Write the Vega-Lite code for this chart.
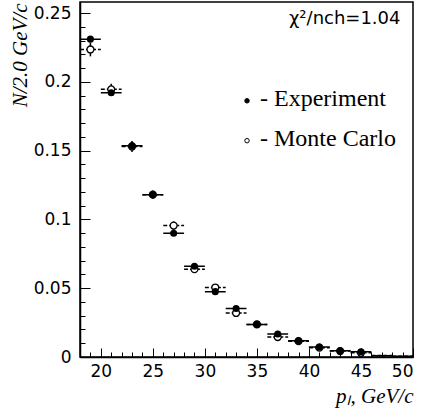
{
  "$schema": "https://vega.github.io/schema/vega-lite/v6.json",
  "width": 333,
  "height": 355,
  "autosize": {"type": "none"},
  "padding": {"left": 80, "top": 2, "right": 14, "bottom": 55},
  "background": "white",
  "config": {
    "view": {"stroke": "black", "strokeWidth": 1.5},
    "axis": {"grid": false, "labelFont": "DejaVu Sans", "labelFontSize": 17, "labelColor": "black", "domainColor": "black", "tickColor": "black", "domainWidth": 1.5, "tickWidth": 1}
  },
  "datasets": {
    "pts": [
      {"x": 19, "xlo": 18, "xhi": 20, "y": 0.231, "ylo": 0.229, "yhi": 0.233, "series": "Experiment"},
      {"x": 21, "xlo": 20, "xhi": 22, "y": 0.192, "ylo": 0.190, "yhi": 0.194, "series": "Experiment"},
      {"x": 23, "xlo": 22, "xhi": 24, "y": 0.1535, "ylo": 0.1505, "yhi": 0.1565, "series": "Experiment"},
      {"x": 25, "xlo": 24, "xhi": 26, "y": 0.118, "ylo": 0.116, "yhi": 0.120, "series": "Experiment"},
      {"x": 27, "xlo": 26, "xhi": 28, "y": 0.090, "ylo": 0.088, "yhi": 0.092, "series": "Experiment"},
      {"x": 29, "xlo": 28, "xhi": 30, "y": 0.066, "ylo": 0.064, "yhi": 0.068, "series": "Experiment"},
      {"x": 31, "xlo": 30, "xhi": 32, "y": 0.0475, "ylo": 0.046, "yhi": 0.049, "series": "Experiment"},
      {"x": 33, "xlo": 32, "xhi": 34, "y": 0.0352, "ylo": 0.034, "yhi": 0.0365, "series": "Experiment"},
      {"x": 35, "xlo": 34, "xhi": 36, "y": 0.0237, "ylo": 0.0227, "yhi": 0.0247, "series": "Experiment"},
      {"x": 37, "xlo": 36, "xhi": 38, "y": 0.0167, "ylo": 0.0157, "yhi": 0.0177, "series": "Experiment"},
      {"x": 39, "xlo": 38, "xhi": 40, "y": 0.0118, "ylo": 0.011, "yhi": 0.0126, "series": "Experiment"},
      {"x": 41, "xlo": 40, "xhi": 42, "y": 0.0072, "ylo": 0.0065, "yhi": 0.0079, "series": "Experiment"},
      {"x": 43, "xlo": 42, "xhi": 44, "y": 0.0046, "ylo": 0.004, "yhi": 0.0052, "series": "Experiment"},
      {"x": 45, "xlo": 44, "xhi": 46, "y": 0.0038, "ylo": 0.0032, "yhi": 0.0044, "series": "Experiment"},
      {"x": 47, "xlo": 46, "xhi": 48, "y": 0.0009, "ylo": 0.0009, "yhi": 0.0009, "series": "Experiment"},
      {"x": 49, "xlo": 48, "xhi": 50, "y": 0.0006, "ylo": 0.0006, "yhi": 0.0006, "series": "Experiment"},
      {"x": 19, "xlo": 18, "xhi": 20, "y": 0.2235, "ylo": 0.2185, "yhi": 0.2285, "series": "Monte Carlo"},
      {"x": 21, "xlo": 20, "xhi": 22, "y": 0.1945, "ylo": 0.1905, "yhi": 0.1985, "series": "Monte Carlo"},
      {"x": 23, "xlo": 22, "xhi": 24, "y": 0.153, "ylo": 0.149, "yhi": 0.157, "series": "Monte Carlo"},
      {"x": 25, "xlo": 24, "xhi": 26, "y": 0.118, "ylo": 0.115, "yhi": 0.121, "series": "Monte Carlo"},
      {"x": 27, "xlo": 26, "xhi": 28, "y": 0.0955, "ylo": 0.0925, "yhi": 0.0985, "series": "Monte Carlo"},
      {"x": 29, "xlo": 28, "xhi": 30, "y": 0.0638, "ylo": 0.0613, "yhi": 0.0663, "series": "Monte Carlo"},
      {"x": 31, "xlo": 30, "xhi": 32, "y": 0.0505, "ylo": 0.0483, "yhi": 0.0527, "series": "Monte Carlo"},
      {"x": 33, "xlo": 32, "xhi": 34, "y": 0.032, "ylo": 0.030, "yhi": 0.034, "series": "Monte Carlo"},
      {"x": 35, "xlo": 34, "xhi": 36, "y": 0.0237, "ylo": 0.022, "yhi": 0.0254, "series": "Monte Carlo"},
      {"x": 37, "xlo": 36, "xhi": 38, "y": 0.0145, "ylo": 0.0131, "yhi": 0.0159, "series": "Monte Carlo"},
      {"x": 39, "xlo": 38, "xhi": 40, "y": 0.0115, "ylo": 0.0103, "yhi": 0.0127, "series": "Monte Carlo"},
      {"x": 41, "xlo": 40, "xhi": 42, "y": 0.0068, "ylo": 0.0059, "yhi": 0.0077, "series": "Monte Carlo"},
      {"x": 43, "xlo": 42, "xhi": 44, "y": 0.0043, "ylo": 0.0036, "yhi": 0.005, "series": "Monte Carlo"},
      {"x": 45, "xlo": 44, "xhi": 46, "y": 0.003, "ylo": 0.0024, "yhi": 0.0036, "series": "Monte Carlo"},
      {"x": 47, "xlo": 46, "xhi": 48, "y": 0.0011, "ylo": 0.0011, "yhi": 0.0011, "series": "Monte Carlo"},
      {"x": 49, "xlo": 48, "xhi": 50, "y": 0.0005, "ylo": 0.0005, "yhi": 0.0005, "series": "Monte Carlo"}
    ],
    "legend": [
      {"mx": 34.05, "my": 0.1862, "tx": 35.3, "ty": 0.1826, "label": "- Experiment", "series": "Experiment"},
      {"mx": 34.05, "my": 0.1572, "tx": 35.3, "ty": 0.1536, "label": "- Monte Carlo", "series": "Monte Carlo"}
    ],
    "note": [
      {"x": 48.8, "y": 0.2457, "label": "χ²/nch=1.04"}
    ]
  },
  "resolve": {"axis": {"x": "independent", "y": "independent"}},
  "layer": [
    {
      "data": {"name": "pts"},
      "mark": {"type": "rule", "strokeWidth": 1.5, "color": "black"},
      "encoding": {
        "x": {"field": "xlo", "type": "quantitative", "scale": {"domain": [18, 50], "nice": false, "zero": false},
          "axis": {"orient": "bottom", "values": [20, 25, 30, 35, 40, 45, 50], "tickSize": -9, "labelPadding": 15, "title": "pₗ, GeV/c", "titleFont": "Liberation Serif", "titleFontStyle": "italic", "titleFontWeight": "normal", "titleFontSize": 21, "titleAnchor": "end", "titleAlign": "right", "titleX": 333, "titleY": 45, "titleBaseline": "alphabetic", "titleColor": "black"}},
        "x2": {"field": "xhi"},
        "y": {"field": "y", "type": "quantitative", "scale": {"domain": [0, 0.258], "nice": false},
          "axis": {"orient": "left", "values": [0, 0.05, 0.1, 0.15, 0.2, 0.25], "format": "~g", "tickSize": -10, "labelPadding": 19, "title": "N/2.0 GeV/c", "titleFont": "Liberation Serif", "titleFontStyle": "italic", "titleFontWeight": "normal", "titleFontSize": 21, "titleAngle": -90, "titleAlign": "right", "titleBaseline": "alphabetic", "titleX": -54, "titleY": 1, "titleColor": "black"}},
        "strokeDash": {"field": "series", "type": "nominal", "scale": {"domain": ["Experiment", "Monte Carlo"], "range": [[1, 0], [4, 2]]}, "legend": null}
      }
    },
    {
      "data": {"name": "pts"},
      "mark": {"type": "rule", "strokeWidth": 1.5, "color": "black"},
      "encoding": {
        "x": {"field": "x", "type": "quantitative", "axis": {"orient": "bottom", "values": [18, 19, 21, 22, 23, 24, 26, 27, 28, 29, 31, 32, 33, 34, 36, 37, 38, 39, 41, 42, 43, 44, 46, 47, 48, 49], "tickSize": -5, "labels": false, "domain": false, "title": null}},
        "y": {"field": "ylo", "type": "quantitative", "axis": {"orient": "left", "values": [0.01, 0.02, 0.03, 0.04, 0.06, 0.07, 0.08, 0.09, 0.11, 0.12, 0.13, 0.14, 0.16, 0.17, 0.18, 0.19, 0.21, 0.22, 0.23, 0.24], "tickSize": -5, "labels": false, "domain": false, "title": null}},
        "y2": {"field": "yhi"}
      }
    },
    {
      "data": {"name": "pts"},
      "transform": [{"filter": "datum.series == 'Monte Carlo' && datum.x < 46"}],
      "mark": {"type": "point", "filled": false, "fill": "white", "fillOpacity": 1, "size": 48, "stroke": "black", "strokeWidth": 1.3, "opacity": 1},
      "encoding": {
        "x": {"field": "x", "type": "quantitative", "axis": null},
        "y": {"field": "y", "type": "quantitative", "axis": null}
      }
    },
    {
      "data": {"name": "pts"},
      "transform": [{"filter": "datum.series == 'Experiment' && datum.x < 46"}],
      "mark": {"type": "point", "filled": true, "size": 50, "color": "black", "opacity": 1},
      "encoding": {
        "x": {"field": "x", "type": "quantitative", "axis": null},
        "y": {"field": "y", "type": "quantitative", "axis": null}
      }
    },
    {
      "data": {"name": "legend"},
      "mark": {"type": "point", "size": 20, "stroke": "black", "strokeWidth": 1, "opacity": 1},
      "encoding": {
        "x": {"field": "mx", "type": "quantitative", "axis": null},
        "y": {"field": "my", "type": "quantitative", "axis": null},
        "fill": {"field": "series", "type": "nominal", "scale": {"domain": ["Experiment", "Monte Carlo"], "range": ["black", "white"]}, "legend": null}
      }
    },
    {
      "data": {"name": "legend"},
      "mark": {"type": "text", "font": "Liberation Serif", "fontSize": 24, "align": "left", "baseline": "alphabetic", "color": "black"},
      "encoding": {
        "x": {"field": "tx", "type": "quantitative", "axis": null},
        "y": {"field": "ty", "type": "quantitative", "axis": null},
        "text": {"field": "label"}
      }
    },
    {
      "data": {"name": "note"},
      "mark": {"type": "text", "font": "DejaVu Sans", "fontSize": 18, "align": "right", "baseline": "middle", "color": "black"},
      "encoding": {
        "x": {"field": "x", "type": "quantitative", "axis": null},
        "y": {"field": "y", "type": "quantitative", "axis": null},
        "text": {"field": "label"}
      }
    }
  ]
}
